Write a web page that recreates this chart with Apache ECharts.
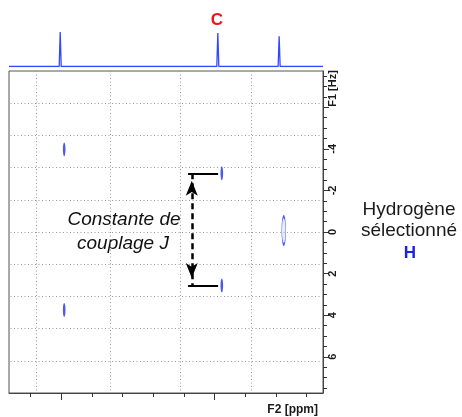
<!DOCTYPE html>
<html><head><meta charset="utf-8">
<script src="https://cdn.jsdelivr.net/npm/echarts@6/dist/echarts.min.js"></script>
<style>html,body{margin:0;padding:0;background:#fff}#c{width:462px;height:417px}</style>
</head><body><div id="c"></div>
<script>
// ---- data ----
// 1D projection along F2 (ppm) and relative intensity
const projPpm = [4.003, 3.489, 3.289];
const projIntensity = [1.0, 0.97, 0.88];
// 2D multiplet components (F2 ppm, F1 Hz)
const peakPpm = [3.990, 3.990, 3.476, 3.476];
const peakHz = [-3.97, 3.75, -2.82, 2.57];
// selected hydrogen
const selPpm = [3.274];
const selHz = [-0.07];
// axis ranges and ticks
const f2Range = [3.146, 4.170];
const f1Range = [-7.74, 7.74];
const f2MinorTicks = [4.1, 4.0, 3.9, 3.8, 3.7, 3.6, 3.5, 3.4, 3.3, 3.2];
const f2MajorTicks = [4.0, 3.5];
const f1MajorTicks = [-6, -4, -2, 0, 2, 4, 6];
const f1MinorTicks = [-7.5, -7, -6.5, -5.5, -5, -4.5, -3.5, -3, -2.5, -1.5, -1, -0.5,
                      0.5, 1, 1.5, 2.5, 3, 3.5, 4.5, 5, 5.5, 6.5, 7, 7.5];
const f1TickLabels = [-6.9, -4, -2, 0, 2, 4, 6];
const f1AxisTitle = 'F1 [Hz]';
const f2AxisTitle = 'F2 [ppm]';
// dotted grid positions
const gridPpm = [4.077, 3.843, 3.612, 3.382];
const gridHz = [-6.19, -4.64, -3.09, -1.55, 0, 1.55, 3.09, 4.64, 6.19];
// J annotation (arrow position and bar extent, in ppm)
const jArrowPpm = 3.574;
const jBarPpm = [3.586, 3.488];

// ---- build ----
const FONT = '"Liberation Sans", Arial, sans-serif';
const projData = [[f2Range[1], 0]];
projPpm.forEach((p, i) => { projData.push([p + 0.0033, 0], [p, projIntensity[i]], [p - 0.0033, 0]); });
projData.push([f2Range[0], 0]);

const peakData = peakPpm.map((p, i) => [p, peakHz[i]]);
const selData = selPpm.map((p, i) => [p, selHz[i]]);

const gridLines = gridPpm.map(v => ({ xAxis: v })).concat(gridHz.map(v => ({ yAxis: v })));

const barStyle = { color: '#000', width: 2, type: 'solid' };
const jTop = peakHz[2], jBot = peakHz[3];
const jAnno = [
  [{ coord: [jBarPpm[0], jTop], lineStyle: barStyle }, { coord: [jBarPpm[1], jTop] }],
  [{ coord: [jBarPpm[0], jBot], lineStyle: barStyle }, { coord: [jBarPpm[1], jBot] }],
  [{ coord: [jArrowPpm, jTop], symbol: 'arrow', symbolSize: [9, 15], symbolOffset: [0, '50%'],
     lineStyle: { color: '#000', width: 2.5, type: [6, 4] } },
   { coord: [jArrowPpm, jBot], symbol: 'arrow', symbolSize: [9, 15], symbolOffset: [0, '50%'] }]
];

const chart = echarts.init(document.getElementById('c'), null, { renderer: 'canvas' });
chart.setOption({
  animation: false,
  backgroundColor: '#fff',
  grid: [
    { left: 9, top: 29, width: 314, height: 37.5, show: false },
    { left: 9, top: 71, width: 314, height: 322, show: true, borderColor: '#555', borderWidth: 1, backgroundColor: 'transparent' }
  ],
  xAxis: [
    { gridIndex: 0, type: 'value', min: f2Range[0], max: f2Range[1], inverse: true, show: false },
    { gridIndex: 1, type: 'value', min: f2Range[0], max: f2Range[1], inverse: true, position: 'bottom',
      axisLine: { show: true, onZero: false, lineStyle: { color: '#444', width: 1 } },
      axisTick: { show: true, customValues: f2MinorTicks, length: 4, lineStyle: { color: '#333' } },
      axisLabel: { show: false }, splitLine: { show: false },
      name: f2AxisTitle, nameLocation: 'start', nameGap: -5,
      nameTextStyle: { fontFamily: FONT, fontWeight: 'bold', fontSize: 12, color: '#1a1a1a',
        align: 'right', verticalAlign: 'top', lineHeight: 12, padding: [11, 0, 0, 0] } },
    { gridIndex: 1, type: 'value', min: f2Range[0], max: f2Range[1], inverse: true, position: 'bottom',
      axisLine: { show: false, onZero: false },
      axisTick: { show: true, customValues: f2MajorTicks, length: 7, lineStyle: { color: '#333' } },
      axisLabel: { show: false }, splitLine: { show: false } }
  ],
  yAxis: [
    { gridIndex: 0, type: 'value', min: 0, max: 1.09, show: false },
    { gridIndex: 1, type: 'value', min: f1Range[0], max: f1Range[1], inverse: true, position: 'right',
      axisLine: { show: true, onZero: false, lineStyle: { color: '#444', width: 1 } },
      axisTick: { show: true, customValues: f1MajorTicks, length: 6, lineStyle: { color: '#333' } },
      axisLabel: { show: true, customValues: f1TickLabels, rotate: 90, margin: 4,
        fontFamily: FONT, fontWeight: 'bold', fontSize: 11, color: '#1a1a1a',
        formatter: v => (v < -6 ? f1AxisTitle : String(v)) },
      splitLine: { show: false } },
    { gridIndex: 1, type: 'value', min: f1Range[0], max: f1Range[1], inverse: true, position: 'right',
      axisLine: { show: false, onZero: false },
      axisTick: { show: true, customValues: f1MinorTicks, length: 4, lineStyle: { color: '#333' } },
      axisLabel: { show: false }, splitLine: { show: false } }
  ],
  series: [
    { type: 'line', name: 'projection', xAxisIndex: 0, yAxisIndex: 0, data: projData,
      symbol: 'none', lineStyle: { color: '#3347ff', width: 1.3 }, silent: true },
    { type: 'scatter', name: 'multiplets', xAxisIndex: 1, yAxisIndex: 1, data: peakData,
      symbol: 'circle', symbolSize: [2.6, 14], z: 5,
      itemStyle: { color: '#1f30e6' }, silent: true,
      markLine: { silent: true, symbol: 'none', label: { show: false }, z: 6, data: jAnno } },
    { type: 'scatter', name: 'selected H', xAxisIndex: 1, yAxisIndex: 1, data: selData,
      symbol: 'circle', symbolSize: [4, 28], z: 5,
      itemStyle: { color: 'rgba(190,195,255,0.4)', borderColor: '#2236ee', borderWidth: 1.2 }, silent: true,
      markLine: { silent: true, symbol: 'none', label: { show: false }, z: 1,
        lineStyle: { color: '#9a9a9a', width: 1, type: [1, 2.5] }, data: gridLines } }
  ],
  graphic: [
    { type: 'text', x: 217, y: 20, style: { text: 'C', fill: '#e8161b', font: 'bold 17px ' + FONT, textAlign: 'center', textVerticalAlign: 'middle', align: 'center', verticalAlign: 'middle' } },
    { type: 'text', x: 409, y: 210, style: { text: 'Hydrogène', fill: '#1a1a1a', font: '19px ' + FONT, textAlign: 'center', textVerticalAlign: 'middle', align: 'center', verticalAlign: 'middle' } },
    { type: 'text', x: 409, y: 230.5, style: { text: 'sélectionné', fill: '#1a1a1a', font: '19px ' + FONT, textAlign: 'center', textVerticalAlign: 'middle', align: 'center', verticalAlign: 'middle' } },
    { type: 'text', x: 410, y: 253, style: { text: 'H', fill: '#1a22e6', font: 'bold 17px ' + FONT, textAlign: 'center', textVerticalAlign: 'middle', align: 'center', verticalAlign: 'middle' } },
    { type: 'text', x: 124, y: 219.5, style: { text: 'Constante de', fill: '#111', font: 'italic 19px ' + FONT, textAlign: 'center', textVerticalAlign: 'middle', align: 'center', verticalAlign: 'middle' } },
    { type: 'text', x: 123, y: 243.5, style: { text: 'couplage J', fill: '#111', font: 'italic 19px ' + FONT, textAlign: 'center', textVerticalAlign: 'middle', align: 'center', verticalAlign: 'middle' } }
  ]
});
</script>
</body></html>
